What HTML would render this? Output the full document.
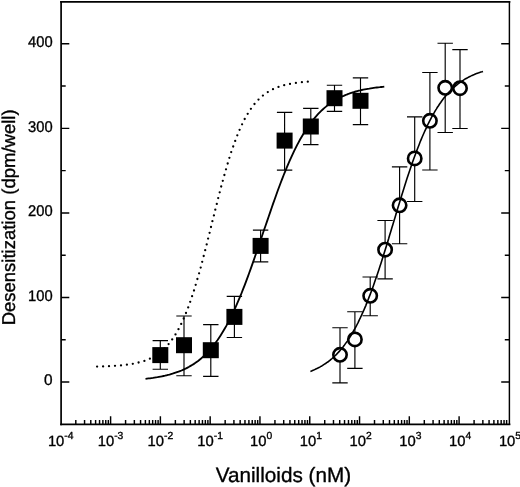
<!DOCTYPE html>
<html><head><meta charset="utf-8"><title>Desensitization</title>
<style>html,body{margin:0;padding:0;background:#fff;overflow:hidden}svg{display:block;will-change:transform}text{-webkit-font-smoothing:antialiased;text-rendering:geometricPrecision}</style></head>
<body>
<svg width="520" height="487" viewBox="0 0 520 487">
<rect width="520" height="487" fill="#fff"/>
<g stroke="#000" fill="none" stroke-linecap="square"><path d="M61.1,1.9V424.3" stroke-width="1.7"/><path d="M509.4,1.9V424.3" stroke-width="1.45"/><path d="M61.1,1.9H509.4" stroke-width="1.85"/><path d="M61.1,424.3H509.4" stroke-width="1.85"/></g>
<path d="M61.1,382.00h8.2 M509.4,382.00h-8.2 M61.1,339.73h4.6 M509.4,339.73h-4.6 M61.1,297.45h8.2 M509.4,297.45h-8.2 M61.1,255.18h4.6 M509.4,255.18h-4.6 M61.1,212.90h8.2 M509.4,212.90h-8.2 M61.1,170.62h4.6 M509.4,170.62h-4.6 M61.1,128.35h8.2 M509.4,128.35h-8.2 M61.1,86.07h4.6 M509.4,86.07h-4.6 M61.1,43.80h8.2 M509.4,43.80h-8.2 M75.80,424.3v-4.2 M84.56,424.3v-4.2 M90.78,424.3v-4.2 M95.61,424.3v-4.2 M99.55,424.3v-4.2 M102.88,424.3v-4.2 M105.77,424.3v-4.2 M108.32,424.3v-4.2 M110.60,424.3v-8.1 M125.58,424.3v-4.2 M134.35,424.3v-4.2 M140.57,424.3v-4.2 M145.39,424.3v-4.2 M149.34,424.3v-4.2 M152.67,424.3v-4.2 M155.56,424.3v-4.2 M158.10,424.3v-4.2 M160.38,424.3v-8.1 M175.37,424.3v-4.2 M184.14,424.3v-4.2 M190.36,424.3v-4.2 M195.18,424.3v-4.2 M199.12,424.3v-4.2 M202.46,424.3v-4.2 M205.34,424.3v-4.2 M207.89,424.3v-4.2 M210.17,424.3v-8.1 M225.16,424.3v-4.2 M233.92,424.3v-4.2 M240.14,424.3v-4.2 M244.97,424.3v-4.2 M248.91,424.3v-4.2 M252.24,424.3v-4.2 M255.13,424.3v-4.2 M257.68,424.3v-4.2 M259.95,424.3v-8.1 M274.94,424.3v-4.2 M283.71,424.3v-4.2 M289.93,424.3v-4.2 M294.75,424.3v-4.2 M298.70,424.3v-4.2 M302.03,424.3v-4.2 M304.92,424.3v-4.2 M307.46,424.3v-4.2 M309.74,424.3v-8.1 M324.73,424.3v-4.2 M333.49,424.3v-4.2 M339.71,424.3v-4.2 M344.54,424.3v-4.2 M348.48,424.3v-4.2 M351.81,424.3v-4.2 M354.70,424.3v-4.2 M357.25,424.3v-4.2 M359.53,424.3v-8.1 M374.51,424.3v-4.2 M383.28,424.3v-4.2 M389.50,424.3v-4.2 M394.32,424.3v-4.2 M398.27,424.3v-4.2 M401.60,424.3v-4.2 M404.49,424.3v-4.2 M407.03,424.3v-4.2 M409.31,424.3v-8.1 M424.30,424.3v-4.2 M433.07,424.3v-4.2 M439.29,424.3v-4.2 M444.11,424.3v-4.2 M448.05,424.3v-4.2 M451.39,424.3v-4.2 M454.27,424.3v-4.2 M456.82,424.3v-4.2 M459.10,424.3v-8.1 M474.09,424.3v-4.2 M482.85,424.3v-4.2 M489.07,424.3v-4.2 M493.90,424.3v-4.2 M497.84,424.3v-4.2 M501.17,424.3v-4.2 M504.06,424.3v-4.2 M506.61,424.3v-4.2" stroke="#000" stroke-width="1.45" fill="none"/>
<path d="M160.3,340.6V369.2 M152.6,340.6h15.4 M152.6,369.2h15.4 M184.0,316.0V375.7 M176.3,316.0h15.4 M176.3,375.7h15.4 M210.8,324.6V376.3 M203.1,324.6h15.4 M203.1,376.3h15.4 M234.4,296.3V337.5 M226.7,296.3h15.4 M226.7,337.5h15.4 M260.6,230.1V261.8 M252.9,230.1h15.4 M252.9,261.8h15.4 M284.6,112.3V170.1 M276.9,112.3h15.4 M276.9,170.1h15.4 M310.8,108.3V144.6 M303.1,108.3h15.4 M303.1,144.6h15.4 M334.5,85.2V111.4 M326.8,85.2h15.4 M326.8,111.4h15.4 M360.5,77.8V124.6 M352.8,77.8h15.4 M352.8,124.6h15.4 M340.0,327.7V382.9 M332.3,327.7h15.4 M332.3,382.9h15.4 M354.9,311.7V368.3 M347.2,311.7h15.4 M347.2,368.3h15.4 M370.2,277.0V315.7 M362.5,277.0h15.4 M362.5,315.7h15.4 M385.1,220.5V278.8 M377.4,220.5h15.4 M377.4,278.8h15.4 M399.6,166.9V243.7 M391.9,166.9h15.4 M391.9,243.7h15.4 M414.7,116.8V201.5 M407.0,116.8h15.4 M407.0,201.5h15.4 M429.9,72.5V170.0 M422.2,72.5h15.4 M422.2,170.0h15.4 M445.2,43.2V132.5 M437.5,43.2h15.4 M437.5,132.5h15.4 M460.0,49.6V128.5 M452.3,49.6h15.4 M452.3,128.5h15.4" stroke="#000" stroke-width="1.15" fill="none"/>
<rect x="152.3" y="347.1" width="16" height="16" fill="#000"/>
<rect x="176.0" y="337.2" width="16" height="16" fill="#000"/>
<rect x="202.8" y="342.2" width="16" height="16" fill="#000"/>
<rect x="226.4" y="308.9" width="16" height="16" fill="#000"/>
<rect x="252.6" y="237.9" width="16" height="16" fill="#000"/>
<rect x="276.6" y="132.6" width="16" height="16" fill="#000"/>
<rect x="302.8" y="118.5" width="16" height="16" fill="#000"/>
<rect x="326.5" y="90.2" width="16" height="16" fill="#000"/>
<rect x="352.5" y="92.8" width="16" height="16" fill="#000"/>
<circle cx="340.0" cy="354.8" r="6.7" fill="#fff" stroke="#000" stroke-width="2.6"/>
<circle cx="354.9" cy="339.4" r="6.7" fill="#fff" stroke="#000" stroke-width="2.6"/>
<circle cx="370.2" cy="295.8" r="6.7" fill="#fff" stroke="#000" stroke-width="2.6"/>
<circle cx="385.1" cy="249.7" r="6.7" fill="#fff" stroke="#000" stroke-width="2.6"/>
<circle cx="399.6" cy="205.3" r="6.7" fill="#fff" stroke="#000" stroke-width="2.6"/>
<circle cx="414.7" cy="158.4" r="6.7" fill="#fff" stroke="#000" stroke-width="2.6"/>
<circle cx="429.9" cy="120.8" r="6.7" fill="#fff" stroke="#000" stroke-width="2.6"/>
<circle cx="445.2" cy="87.8" r="6.7" fill="#fff" stroke="#000" stroke-width="2.6"/>
<circle cx="460.0" cy="88.2" r="6.7" fill="#fff" stroke="#000" stroke-width="2.6"/>
<path d="M145.5,378.8 L147.0,378.6 L148.5,378.4 L150.0,378.3 L151.5,378.1 L153.0,377.9 L154.5,377.6 L156.0,377.4 L157.5,377.2 L159.0,376.9 L160.5,376.6 L162.0,376.3 L163.5,376.0 L165.0,375.7 L166.5,375.3 L168.0,374.9 L169.5,374.6 L171.0,374.1 L172.5,373.7 L174.0,373.2 L175.5,372.7 L177.0,372.2 L178.5,371.7 L180.0,371.1 L181.5,370.5 L183.0,369.8 L184.5,369.1 L186.1,368.4 L187.6,367.6 L189.1,366.8 L190.6,365.9 L192.1,365.0 L193.6,364.1 L195.1,363.1 L196.6,362.0 L198.1,360.9 L199.6,359.7 L201.1,358.5 L202.6,357.1 L204.1,355.8 L205.6,354.3 L207.1,352.8 L208.6,351.2 L210.1,349.6 L211.6,347.8 L213.1,346.0 L214.6,344.1 L216.1,342.0 L217.6,340.0 L219.1,337.8 L220.6,335.5 L222.1,333.1 L223.6,330.6 L225.1,328.0 L226.6,325.4 L228.1,322.6 L229.6,319.7 L231.1,316.7 L232.6,313.6 L234.1,310.4 L235.6,307.1 L237.1,303.7 L238.6,300.2 L240.1,296.7 L241.6,293.0 L243.1,289.2 L244.6,285.3 L246.1,281.4 L247.6,277.4 L249.1,273.3 L250.6,269.1 L252.1,264.9 L253.6,260.6 L255.1,256.3 L256.6,251.9 L258.1,247.5 L259.6,243.1 L261.1,238.7 L262.6,234.2 L264.1,229.8 L265.7,225.3 L267.2,220.9 L268.7,216.5 L270.2,212.1 L271.7,207.7 L273.2,203.4 L274.7,199.2 L276.2,195.0 L277.7,190.8 L279.2,186.8 L280.7,182.8 L282.2,178.9 L283.7,175.0 L285.2,171.3 L286.7,167.7 L288.2,164.1 L289.7,160.7 L291.2,157.3 L292.7,154.1 L294.2,150.9 L295.7,147.9 L297.2,144.9 L298.7,142.1 L300.2,139.3 L301.7,136.7 L303.2,134.2 L304.7,131.7 L306.2,129.4 L307.7,127.2 L309.2,125.0 L310.7,122.9 L312.2,121.0 L313.7,119.1 L315.2,117.3 L316.7,115.6 L318.2,113.9 L319.7,112.4 L321.2,110.9 L322.7,109.5 L324.2,108.1 L325.7,106.9 L327.2,105.6 L328.7,104.5 L330.2,103.4 L331.7,102.4 L333.2,101.4 L334.7,100.4 L336.2,99.5 L337.7,98.7 L339.2,97.9 L340.7,97.2 L342.2,96.4 L343.7,95.8 L345.3,95.1 L346.8,94.5 L348.3,94.0 L349.8,93.4 L351.3,92.9 L352.8,92.4 L354.3,92.0 L355.8,91.5 L357.3,91.1 L358.8,90.7 L360.3,90.4 L361.8,90.0 L363.3,89.7 L364.8,89.4 L366.3,89.1 L367.8,88.8 L369.3,88.6 L370.8,88.3 L372.3,88.1 L373.8,87.9 L375.3,87.7 L376.8,87.5 L378.3,87.3 L379.8,87.2 L381.3,87.0 L382.8,86.9 L384.3,86.7" stroke="#000" stroke-width="1.85" fill="none"/>
<path d="M310.4,371.4 L311.5,371.0 L312.6,370.5 L313.7,370.1 L314.7,369.6 L315.8,369.1 L316.9,368.6 L318.0,368.0 L319.1,367.4 L320.2,366.9 L321.3,366.2 L322.3,365.6 L323.4,364.9 L324.5,364.2 L325.6,363.5 L326.7,362.7 L327.8,362.0 L328.9,361.1 L329.9,360.3 L331.0,359.4 L332.1,358.5 L333.2,357.5 L334.3,356.5 L335.4,355.5 L336.5,354.4 L337.5,353.3 L338.6,352.1 L339.7,350.9 L340.8,349.6 L341.9,348.3 L343.0,347.0 L344.1,345.6 L345.1,344.1 L346.2,342.6 L347.3,341.1 L348.4,339.4 L349.5,337.8 L350.6,336.1 L351.7,334.3 L352.7,332.4 L353.8,330.5 L354.9,328.6 L356.0,326.6 L357.1,324.5 L358.2,322.3 L359.2,320.1 L360.3,317.9 L361.4,315.5 L362.5,313.1 L363.6,310.7 L364.7,308.1 L365.8,305.6 L366.8,302.9 L367.9,300.2 L369.0,297.4 L370.1,294.6 L371.2,291.7 L372.3,288.8 L373.4,285.7 L374.4,282.7 L375.5,279.6 L376.6,276.4 L377.7,273.2 L378.8,269.9 L379.9,266.6 L381.0,263.2 L382.0,259.9 L383.1,256.4 L384.2,253.0 L385.3,249.5 L386.4,245.9 L387.5,242.4 L388.6,238.8 L389.6,235.2 L390.7,231.7 L391.8,228.0 L392.9,224.4 L394.0,220.8 L395.1,217.2 L396.2,213.6 L397.2,210.0 L398.3,206.4 L399.4,202.9 L400.5,199.3 L401.6,195.8 L402.7,192.3 L403.8,188.8 L404.8,185.4 L405.9,182.0 L407.0,178.6 L408.1,175.3 L409.2,172.0 L410.3,168.8 L411.4,165.6 L412.4,162.5 L413.5,159.5 L414.6,156.4 L415.7,153.5 L416.8,150.6 L417.9,147.8 L419.0,145.0 L420.0,142.3 L421.1,139.6 L422.2,137.0 L423.3,134.5 L424.4,132.0 L425.5,129.6 L426.6,127.3 L427.6,125.0 L428.7,122.8 L429.8,120.7 L430.9,118.6 L432.0,116.5 L433.1,114.6 L434.2,112.7 L435.2,110.8 L436.3,109.1 L437.4,107.3 L438.5,105.7 L439.6,104.0 L440.7,102.5 L441.7,101.0 L442.8,99.5 L443.9,98.1 L445.0,96.8 L446.1,95.4 L447.2,94.2 L448.3,93.0 L449.3,91.8 L450.4,90.7 L451.5,89.6 L452.6,88.5 L453.7,87.5 L454.8,86.6 L455.9,85.6 L456.9,84.8 L458.0,83.9 L459.1,83.1 L460.2,82.3 L461.3,81.5 L462.4,80.8 L463.5,80.1 L464.5,79.4 L465.6,78.8 L466.7,78.2 L467.8,77.6 L468.9,77.0 L470.0,76.4 L471.1,75.9 L472.1,75.4 L473.2,74.9 L474.3,74.5 L475.4,74.0 L476.5,73.6 L477.6,73.2 L478.7,72.8 L479.7,72.4 L480.8,72.1 L481.9,71.8 L483.0,71.4" stroke="#000" stroke-width="1.6" fill="none"/>
<path d="M97.1,366.6h0 M103.1,366.4h0 M109.0,366.2h0 M115.0,365.8h0 M121.0,365.4h0 M126.9,364.7h0 M132.8,363.8h0 M138.6,362.5h0 M144.4,360.9h0 M149.9,358.7h0 M155.2,355.9h0 M160.1,352.5h0 M164.6,348.5h0 M168.6,344.1h0 M172.2,339.4h0 M175.5,334.4h0 M178.5,329.2h0 M181.2,323.9h0 M183.7,318.5h0 M186.0,313.0h0 M188.2,307.4h0 M190.2,301.8h0 M192.1,296.2h0 M194.0,290.5h0 M195.7,284.8h0 M197.4,279.0h0 M199.1,273.3h0 M200.7,267.6h0 M202.2,261.8h0 M203.7,256.0h0 M205.2,250.2h0 M206.7,244.4h0 M208.1,238.6h0 M209.6,232.8h0 M211.0,227.0h0 M212.4,221.2h0 M213.9,215.4h0 M215.3,209.7h0 M216.8,203.9h0 M218.2,198.1h0 M219.7,192.3h0 M221.2,186.5h0 M222.8,180.8h0 M224.4,175.0h0 M226.0,169.3h0 M227.7,163.5h0 M229.4,157.8h0 M231.2,152.1h0 M233.2,146.5h0 M235.2,140.9h0 M237.3,135.3h0 M239.6,129.8h0 M242.1,124.3h0 M244.7,119.0h0 M247.7,113.8h0 M250.9,108.8h0 M254.5,104.0h0 M258.5,99.6h0 M262.9,95.6h0 M267.8,92.1h0 M273.0,89.2h0 M278.5,86.9h0 M284.2,85.2h0 M290.0,83.9h0 M295.9,82.9h0 M301.9,82.2h0 M307.8,81.7h0" stroke="#000" stroke-width="2.3" stroke-linecap="round" fill="none"/>
<g font-family="'Liberation Sans', Arial, sans-serif" fill="#000" stroke="#000" stroke-width="0.35" stroke-linejoin="round">
<text x="52.6" y="385.4" font-size="15.4" text-anchor="end">0</text>
<text x="52.6" y="300.8" font-size="15.4" text-anchor="end" textLength="24.6" lengthAdjust="spacingAndGlyphs">100</text>
<text x="52.6" y="216.3" font-size="15.4" text-anchor="end" textLength="24.6" lengthAdjust="spacingAndGlyphs">200</text>
<text x="52.6" y="131.8" font-size="15.4" text-anchor="end" textLength="24.6" lengthAdjust="spacingAndGlyphs">300</text>
<text x="52.6" y="47.2" font-size="15.4" text-anchor="end" textLength="24.6" lengthAdjust="spacingAndGlyphs">400</text>
<text x="60.7" y="446.4" font-size="14.8" text-anchor="middle">10<tspan font-size="10.3" dy="-7.0">-4</tspan></text>
<text x="110.5" y="446.4" font-size="14.8" text-anchor="middle">10<tspan font-size="10.3" dy="-7.0">-3</tspan></text>
<text x="160.3" y="446.4" font-size="14.8" text-anchor="middle">10<tspan font-size="10.3" dy="-7.0">-2</tspan></text>
<text x="210.1" y="446.4" font-size="14.8" text-anchor="middle">10<tspan font-size="10.3" dy="-7.0">-1</tspan></text>
<text x="261.1" y="446.4" font-size="14.8" text-anchor="middle">10<tspan font-size="10.3" dy="-7.0">0</tspan></text>
<text x="310.8" y="446.4" font-size="14.8" text-anchor="middle">10<tspan font-size="10.3" dy="-7.0">1</tspan></text>
<text x="360.6" y="446.4" font-size="14.8" text-anchor="middle">10<tspan font-size="10.3" dy="-7.0">2</tspan></text>
<text x="410.4" y="446.4" font-size="14.8" text-anchor="middle">10<tspan font-size="10.3" dy="-7.0">3</tspan></text>
<text x="460.2" y="446.4" font-size="14.8" text-anchor="middle">10<tspan font-size="10.3" dy="-7.0">4</tspan></text>
<text x="510.0" y="446.4" font-size="14.8" text-anchor="middle">10<tspan font-size="10.3" dy="-7.0">5</tspan></text>
<text x="283.4" y="481.8" font-size="20.7" text-anchor="middle">Vanilloids (nM)</text>
<text transform="translate(14.9,217.4) rotate(-90)" font-size="18.5" text-anchor="middle">Desensitization (dpm/well)</text>
</g>
</svg>
</body></html>
